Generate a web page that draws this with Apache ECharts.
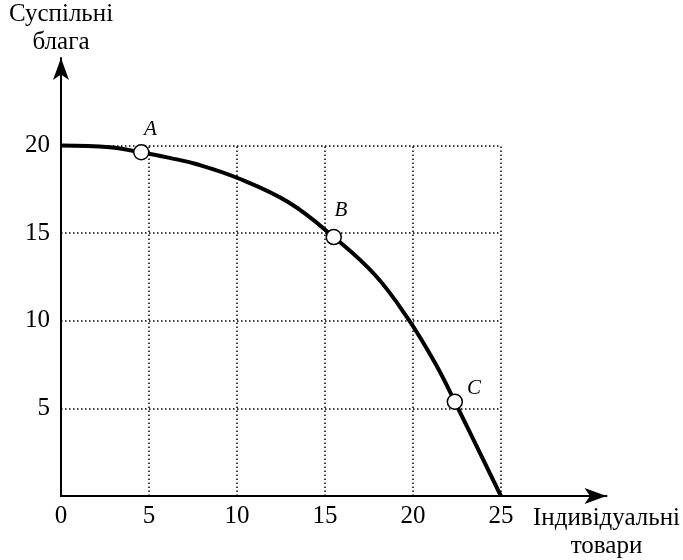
<!DOCTYPE html>
<html><head><meta charset="utf-8">
<script src="https://cdn.jsdelivr.net/npm/echarts@6/dist/echarts.min.js"></script>
<style>html,body{margin:0;padding:0;background:#fff}#c{width:683px;height:560px}</style>
</head><body><div id="c"></div>
<script>
// Curve (production possibilities frontier)
const curveX = [0, 2.77, 4.56, 6.17, 7.67, 10.03, 12.95, 15.5, 17.86, 19.7, 21.25, 22.38, 25];
const curveY = [20, 19.9, 19.62, 19.3, 18.95, 18.15, 16.75, 14.78, 12.6, 10.15, 7.6, 5.38, 0];
// Marked points
const pointNames = ['A', 'B', 'C'];
const pointX = [4.56, 15.5, 22.38];
const pointY = [19.62, 14.78, 5.38];
// Ticks
const xTicks = [0, 5, 10, 15, 20, 25];
const yTicks = [5, 10, 15, 20];
const xName = 'Індивідуальні\nтовари';
const yName = 'Суспільні\nблага';

const FONT = 'Liberation Serif';
const FS = 25;
const gridTop = 20, gridRight = 25;
const labelOffsets = { A: [17.5, -14.5], B: [15.5, -18.5], C: [27.5, -5.5] };

const gridLines = [];
xTicks.filter(v => v > 0).forEach(v => gridLines.push([{ coord: [v, 0] }, { coord: [v, gridTop] }]));
yTicks.forEach(v => gridLines.push([{ coord: [0, v] }, { coord: [gridRight, v] }]));

const chart = echarts.init(document.getElementById('c'));
chart.setOption({
  animation: false,
  backgroundColor: '#fff',
  grid: { left: 61, right: 74, top: 58, bottom: 57, containLabel: false },
  xAxis: {
    type: 'value', min: 0, max: 31, interval: 5,
    axisLine: { show: true, symbol: ['none', 'arrow'], symbolSize: [12, 22], lineStyle: { color: '#000', width: 2 } },
    axisTick: { show: false }, splitLine: { show: false },
    axisLabel: { color: '#000', fontFamily: FONT, fontSize: FS, margin: 8,
      formatter: v => xTicks.includes(v) ? String(v) : '' },
    name: xName, nameLocation: 'end', nameGap: 0,
    nameTextStyle: { color: '#000', fontFamily: FONT, fontSize: FS, lineHeight: 28, align: 'center', verticalAlign: 'top', padding: [8, 0, 0, 0] }
  },
  yAxis: {
    type: 'value', min: 0, max: 25, interval: 5,
    axisLine: { show: true, symbol: ['none', 'arrow'], symbolSize: [12, 22], lineStyle: { color: '#000', width: 2 } },
    axisTick: { show: false }, splitLine: { show: false },
    axisLabel: { color: '#000', fontFamily: FONT, fontSize: FS, margin: 11,
      formatter: v => yTicks.includes(v) ? String(v) : '' },
    name: yName, nameLocation: 'end', nameGap: 2,
    nameTextStyle: { color: '#000', fontFamily: FONT, fontSize: FS, lineHeight: 28, align: 'center' }
  },
  series: [
    {
      type: 'line', data: [], silent: true,
      markLine: { silent: true, symbol: 'none', label: { show: false },
        lineStyle: { color: '#000', type: [1.5, 2.5], width: 1.5 }, data: gridLines }
    },
    {
      type: 'line', smooth: 0.4, showSymbol: false,
      data: curveX.map((x, i) => [x, curveY[i]]),
      lineStyle: { color: '#000', width: 4 }, z: 3
    },
    {
      type: 'scatter', symbol: 'circle', symbolSize: 15, z: 5,
      itemStyle: { color: '#fff', borderColor: '#000', borderWidth: 1.5, opacity: 1 },
      data: pointNames.map((n, i) => ({
        name: n, value: [pointX[i], pointY[i]],
        label: { show: true, formatter: n, position: labelOffsets[n], align: 'center', verticalAlign: 'middle',
          color: '#000', fontFamily: FONT, fontStyle: 'italic', fontSize: 21 }
      }))
    }
  ]
});
</script></body></html>
